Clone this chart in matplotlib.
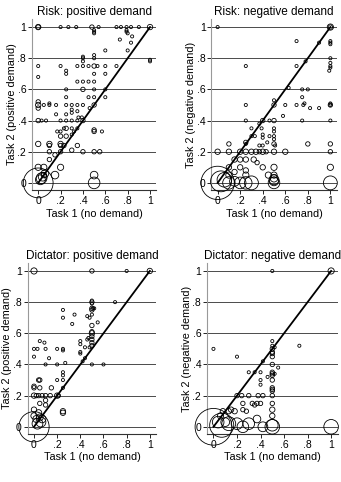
import matplotlib.pyplot as plt

plt.rcParams['font.family'] = ['Liberation Sans', 'DejaVu Sans']

titles = ["Risk: positive demand", "Risk: negative demand",
          "Dictator: positive demand", "Dictator: negative demand"]
ylabels = ["Task 2 (positive demand)", "Task 2 (negative demand)",
           "Task 2 (positive demand)", "Task 2 (negative demand)"]
xlabel = "Task 1 (no demand)"
ticks = [0, .2, .4, .6, .8, 1]
ticklabels = ["0", ".2", ".4", ".6", ".8", "1"]

# Risk: positive demand  (task1, task2, count)
rp_x = [0, 0, .2, .27, .34, .48, .5, .5, .5, .54, .7, .74, .79, .83, .9, 1,
        .79, .79, .8, .73, .84, .83, .8, 1, 1,
        .4, .4, .4, .5, .5, .6, 0, .2, .25, .35, .4, .45, .5, .53, .6, .7,
        0, .25, .5, .6, .35, .4, .45, .5, .25, .4, .5, .6, .25, .45, .5, .6,
        0, 0, 0, .05, .1, .1, .16, .25, .3, .35, .4, .5, .3, .3, .35, .46,
        0, .03, .07, .2, .25, .3, .35, .4, .36, .39, .16, .25,
        .25, .3, .35, .23, .17, .2, .5, .5, .57, .2, .25, .3, .32,
        0, .1, .2, .23, .35, .2, .1,
        .1, .2, .3, .4, .5, .55, .15, .1,
        0, .05, .2, .15, .05, .5, .5, 0, .02, .04, .03, .06]
rp_y = [1, 1, 1, 1, 1, 1, .98, .97, .96, 1, 1, 1, 1, 1, 1, 1,
        .98, .97, .96, .92, .94, .9, .85, .79, .78,
        .81, .8, .78, .82, .8, .85, .75, .75, .72, .75, .75, .75, .75, .75, .75, .75,
        .68, .7, .7, .7, .65, .65, .65, .65, .6, .6, .6, .6, .55, .55, .55, .55,
        .5, .52, .48, .5, .5, .51, .5, .5, .5, .5, .5, .5, .47, .45, .46, .48,
        .4, .4, .4, .4, .4, .4, .4, .4, .42, .42, .44, .44,
        .35, .35, .35, .35, .33, .33, .34, .33, .33, .3, .3, .31, .33,
        .25, .25, .25, .24, .24, .24, .24,
        .2, .2, .21, .2, .2, .2, .18, .15,
        .1, .1, .1, .05, .05, .05, 0, 0, .02, .04, .03, .06]
rp_n = [3, 2, 1, 1, 1, 2, 1, 1, 1, 1, 1, 1, 1, 1, 1, 3,
        1, 1, 1, 1, 1, 1, 1, 1, 1,
        1, 1, 1, 1, 1, 1, 1, 1, 1, 1, 1, 1, 2, 1, 1, 1,
        1, 1, 1, 1, 1, 1, 1, 1, 1, 2, 1, 1, 1, 1, 1, 1,
        3, 2, 2, 1, 1, 1, 1, 1, 1, 1, 1, 2, 1, 1, 1, 1,
        2, 1, 1, 1, 1, 1, 1, 2, 1, 1, 1, 1,
        2, 1, 1, 1, 1, 1, 2, 2, 1, 2, 2, 1, 1,
        3, 3, 3, 2, 2, 2, 2,
        2, 2, 2, 2, 2, 2, 2, 2,
        4, 4, 4, 6, 3, 6, 14, 92, 10, 8, 12, 6]

# Risk: negative demand
rn_x = [0, 1, 1, .7, .9, 1, 1, 1, 1, 1, 1, .99, 1, .78, .25, .7,
        .63, .75, .8, .75, .25, .5, .5, .6, .7, .76, .77, .82, .9, 1, 1, 1,
        .25, .4, .46, .5, .75, 1, .58, .37, .39, .3, .33, .3, .4, .4, .46,
        .5, .5, .5, .5, .44, .4, .37, .25, .25, .1, .8, 1, .5, .51,
        0, .1, .2, .25, .3, .34, .37, .4, .43, .5, .6, 1,
        .1, .15, .2, .25, .32, .35, .4, .5, 1, .2, .25, .15, .45, .5, .5, .25, .1,
        0, .03, .1, .2, .25, .3, .5, .5, .5, 1, .06, .15]
rn_y = [1, 1, 1, .91, .9, .9, .89, .91, .8, .77, .75, .72, .74, .78, .75, .75,
        .61, .6, .6, .55, .5, .5, .53, .5, .5, .5, .51, .48, .48, .5, .51, .5,
        .4, .4, .4, .4, .4, .4, .43, .38, .35, .35, .3, .3, .31, .29, .3,
        .35, .33, .3, .28, .26, .24, .24, .26, .25, .25, .25, .25, .25, .24,
        .2, .2, .2, .2, .2, .2, .2, .2, .2, .2, .2, .2,
        .1, .15, .15, .15, .15, .13, .1, .1, .1, .1, .08, .07, .05, .05, .03, .05, .05,
        0, .01, 0, 0, 0, 0, 0, .02, .01, 0, .02, .01]
rn_n = [1, 4, 2, 1, 1, 1, 1, 1, 1, 1, 1, 1, 1, 1, 1, 1,
        1, 1, 1, 1, 1, 2, 1, 1, 1, 1, 1, 1, 1, 2, 1, 1,
        1, 2, 1, 2, 1, 1, 1, 1, 1, 1, 1, 1, 1, 1, 1,
        1, 1, 1, 1, 1, 1, 1, 2, 1, 2, 2, 2, 2, 1,
        3, 3, 3, 3, 3, 3, 2, 3, 2, 3, 3, 2,
        3, 3, 3, 3, 3, 2, 3, 4, 4, 3, 3, 3, 4, 4, 6, 4, 4,
        115, 45, 16, 14, 16, 20, 14, 10, 8, 20, 22, 10]

# Dictator: positive demand
dp_x = [0, .5, .8, 1, .5, .5, .5, .7, .25, .25, .35, .33, .46, .48,
        .5, .51, .52, .5, .5, .55, .4, .4, .46, .47,
        .5, .5, .5, .5, .5, .5, .5, .48, .44,
        0, .03, .05, .09, .1, .2, .25, .25, 0, .13, .1, .2, .27,
        .4, .4, .42, .44, .5, .6, .25, .25, .25, .2, .25,
        0, 0, .04, .05, .05, .15,
        0, .02, .04, .07, .1, .14, .2, .21, .05, .1, .1, .25, .25,
        0, 0, .04, .02, .05, .07, 0, .03, .06]
dp_y = [1, 1, 1, 1, .8, .81, .79, .8, .75, .7, .72, .66, .71, .7,
        .76, .76, .76, .75, .72, .67, .55, .53, .56, .57,
        .65, .61, .6, .58, .56, .54, .52, .51, .51,
        .5, .5, .55, .54, .5, .5, .5, .49, .45, .44, .4, .4, .41,
        .48, .47, .42, .44, .4, .4, .35, .33, .3, .3, .25,
        .26, .25, .3, .3, .25, .25,
        .2, .2, .2, .2, .2, .2, .2, .2, .15, .17, .14, .1, .09,
        .11, .07, .09, .05, .06, .05, 0, .02, .03]
dp_n = [4, 2, 1, 3, 2, 1, 1, 1, 1, 1, 1, 1, 1, 1,
        2, 1, 1, 2, 1, 1, 1, 1, 1, 1,
        2, 2, 3, 2, 2, 2, 2, 1, 1,
        1, 1, 1, 1, 1, 1, 1, 1, 1, 1, 1, 1, 1,
        1, 1, 1, 1, 1, 1, 1, 1, 1, 1, 1,
        2, 2, 2, 2, 2, 2,
        3, 2, 2, 2, 2, 2, 3, 2, 2, 2, 2, 3, 3,
        3, 4, 4, 5, 5, 6, 95, 12, 10]

# Dictator: negative demand
dn_x = [.5, 1, 0, .2, .5, .5, .52, .73, .5, .5, .5, .5, .42, .5, .55,
        .35, .3, .4, .5, .5, .5, .52, .46, .4, .4, .5, .5, .5, .5,
        .2, .24, .3, .38, .42, .5,
        .25, .33, .35, .37, .4, .5, .25, .28, .18, .13, .08, .15, .5, .5, .06, .37,
        0, .07, .13, .2, .25, .3, .42, .5, .5, 1, .04, .1]
dn_y = [1, 1, .5, .45, .52, .55, .51, .52, .5, .48, .47, .45, .42, .4, .38,
        .35, .35, .35, .35, .34, .33, .34, .32, .3, .27, .3, .25, .24, .23,
        .2, .2, .2, .2, .2, .2,
        .15, .15, .14, .15, .15, .15, .11, .1, .1, .1, .1, .11, .11, .07, .07, .05,
        0, .01, .02, .02, 0, .02, 0, 0, .01, 0, .03, .03]
dn_n = [1, 4, 1, 1, 1, 1, 1, 1, 2, 2, 2, 2, 1, 2, 1,
        1, 1, 1, 2, 2, 2, 1, 1, 1, 1, 2, 2, 2, 2,
        2, 2, 2, 2, 2, 2,
        2, 2, 2, 2, 2, 2, 2, 2, 3, 3, 3, 3, 3, 3, 4, 6,
        140, 60, 20, 14, 14, 14, 10, 22, 14, 22, 14, 8]

panels = [(rp_x, rp_y, rp_n), (rn_x, rn_y, rn_n),
          (dp_x, dp_y, dp_n), (dn_x, dn_y, dn_n)]
positions = [[0.094, 0.606, 0.364, 0.354],
             [0.620, 0.606, 0.367, 0.354],
             [0.081, 0.100, 0.377, 0.354],
             [0.607, 0.100, 0.383, 0.354]]

fig = plt.figure(figsize=(3.41, 4.82), dpi=100)

for (px, py, pn), pos, title, ylab in zip(panels, positions, titles, ylabels):
    ax = fig.add_axes(pos)
    ax.set_xlim(-0.055, 1.055)
    ax.set_ylim(-0.045, 1.05)
    for t in ticks:
        ax.axhline(t, color='#4a4a4a', lw=0.7, zorder=1)
    ax.plot([0, 1], [0, 1], color='black', lw=1.3, zorder=3)
    ax.scatter(px, py, s=[5 * n for n in pn], facecolors='none',
               edgecolors='black', linewidths=0.6, zorder=4, clip_on=False)
    ax.set_xticks(ticks)
    ax.set_xticklabels(ticklabels)
    ax.set_yticks(ticks)
    ax.set_yticklabels(ticklabels)
    ax.tick_params(labelsize=7.5, length=3, width=0.6, pad=1.2)
    for side in ['top', 'right']:
        ax.spines[side].set_visible(False)
    ax.spines['left'].set_color('#999999')
    ax.spines['left'].set_linewidth(0.8)
    ax.spines['bottom'].set_color('#333333')
    ax.spines['bottom'].set_linewidth(0.8)
    ax.set_title(title, fontsize=8.5, pad=3)
    ax.set_xlabel(xlabel, fontsize=7.8, labelpad=2)
    ax.set_ylabel(ylab, fontsize=7.8, labelpad=0.5)

fig.savefig('out.png', dpi=100)
